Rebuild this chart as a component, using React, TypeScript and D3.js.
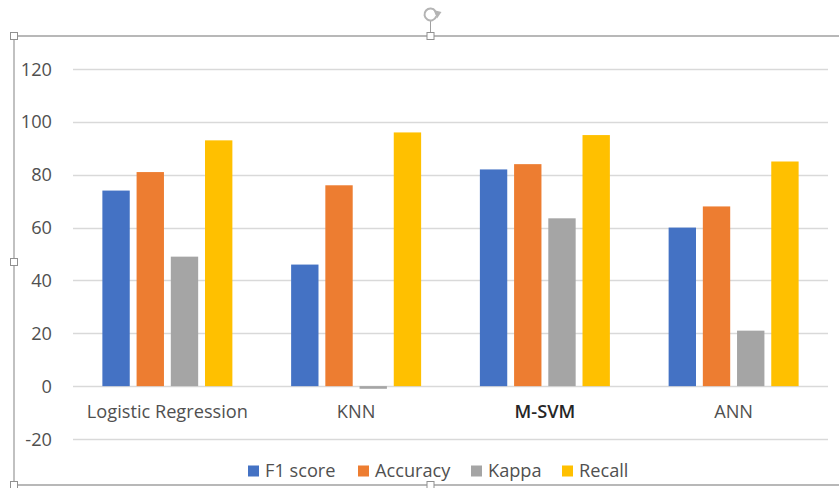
import * as d3 from "d3";

const categories = ["Logistic Regression", "KNN", "M-SVM", "ANN"];
const seriesNames = ["F1 score", "Accuracy", "Kappa", "Recall"];
const f1Score = [74, 46, 82, 60];
const accuracy = [81, 76, 84, 68];
const kappa = [49, -1, 63.5, 21];
const recall = [93, 96, 95, 85];
const yTicks = [-20, 0, 20, 40, 60, 80, 100, 120];
const colors = ["#4472C4", "#ED7D31", "#A5A5A5", "#FFC000"];

const series = [f1Score, accuracy, kappa, recall];

const W = 839;
const H = 488;
const font = "'Open Sans', 'Noto Sans', sans-serif";
const fs = 18.2;

export default function App() {
  const x = d3.scaleBand<string>().domain(categories).range([73, 828]);
  const y = d3.scaleLinear().domain([-20, 120]).range([439, 69]);
  const inner = d3
    .scaleBand<number>()
    .domain(d3.range(seriesNames.length))
    .range([0, 130])
    .paddingInner(0.2);
  const groupOffset = (x.bandwidth() - 130) / 2;

  // legend layout (x positions of each swatch)
  const legendX = [248, 358, 471, 562];

  const handles: [number, number][] = [
    [14, 36],
    [430.5, 36],
    [14, 262],
    [14, 485],
    [430.5, 485],
  ];

  return (
    <svg
      width={W}
      height={H}
      style={{ position: "absolute", left: 0, top: 0, background: "#fff" }}
    >
      {/* gridlines */}
      {yTicks.map((t) => (
        <line
          key={t}
          x1={73}
          x2={828}
          y1={Math.round(y(t)) + 0.5}
          y2={Math.round(y(t)) + 0.5}
          stroke="#d9d9d9"
          strokeWidth={1.3}
        />
      ))}
      {yTicks.map((t) => (
        <text
          key={"l" + t}
          x={52}
          y={y(t) + 6.5}
          textAnchor="end"
          fontFamily={font}
          fontSize={fs}
          fill="#505050"
        >
          {t}
        </text>
      ))}

      {/* bars */}
      {categories.map((c, ci) => (
        <g key={c} transform={`translate(${x(c)! + groupOffset},0)`}>
          {series.map((s, si) => {
            const v = s[ci];
            const y0 = y(0);
            const y1 = y(v);
            return (
              <rect
                key={si}
                x={inner(si)}
                y={Math.min(y0, y1)}
                width={inner.bandwidth()}
                height={Math.max(Math.abs(y1 - y0), 1.5)}
                fill={colors[si]}
              />
            );
          })}
        </g>
      ))}

      {/* category labels */}
      {categories.map((c) => (
        <text
          key={"c" + c}
          x={x(c)! + x.bandwidth() / 2}
          y={418}
          textAnchor="middle"
          fontFamily={font}
          fontSize={fs}
          fontWeight={c === "M-SVM" ? 600 : 400}
          fill={c === "M-SVM" ? "#262626" : "#505050"}
        >
          {c}
        </text>
      ))}

      {/* legend */}
      {seriesNames.map((n, i) => (
        <g key={n}>
          <rect x={legendX[i]} y={465.5} width={11} height={11} fill={colors[i]} />
          <text
            x={legendX[i] + 17}
            y={477}
            fontFamily={font}
            fontSize={fs}
            fill="#505050"
          >
            {n}
          </text>
        </g>
      ))}

      {/* selection frame */}
      <line x1={14} x2={W} y1={36} y2={36} stroke="#a0a0a0" strokeWidth={1.3} />
      <line x1={14} x2={W} y1={485} y2={485} stroke="#a0a0a0" strokeWidth={1.3} />
      <line x1={14} x2={14} y1={36} y2={485} stroke="#a0a0a0" strokeWidth={1.3} />
      <line x1={430.5} x2={430.5} y1={21} y2={32} stroke="#a0a0a0" strokeWidth={1} />
      {handles.map(([hx, hy], i) => (
        <rect
          key={i}
          x={hx - 3.5}
          y={hy - 3.5}
          width={7}
          height={7}
          fill="#fff"
          stroke="#909090"
          strokeWidth={1}
        />
      ))}
      {/* rotation handle */}
      <path
        d={d3.arc()({
          innerRadius: 6,
          outerRadius: 6,
          startAngle: Math.PI * 0.6,
          endAngle: Math.PI * 2.3,
        })!}
        transform="translate(430.5,14.5)"
        fill="none"
        stroke="#b4b4b4"
        strokeWidth={2}
      />
      <path d="M 433.5 10 L 441.5 12 L 437 18.5 Z" fill="#b4b4b4" />
    </svg>
  );
}
